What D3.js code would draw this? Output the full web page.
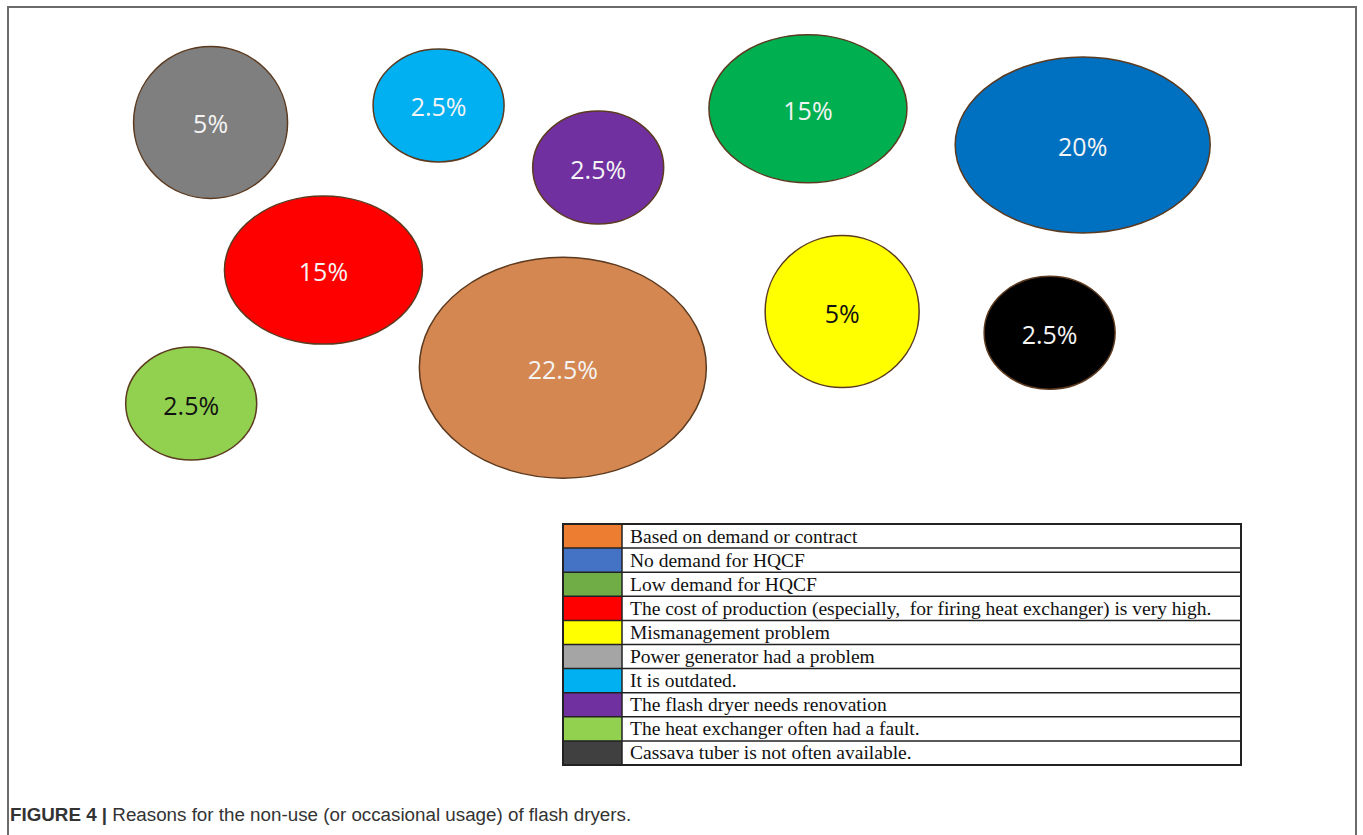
<!DOCTYPE html>
<html>
<head>
<meta charset="utf-8">
<script src="https://cdn.jsdelivr.net/npm/d3@7"></script>
<style>
  html, body { margin: 0; padding: 0; background: #ffffff; }
  svg { display: block; }
</style>
</head>
<body>
<div class="bubble-chart"></div>
<script>
// reasons, in legend order
const reasons = [
    "Based on demand or contract",
    "No demand for HQCF",
    "Low demand for HQCF",
    "The cost of production (especially,  for firing heat exchanger) is very high.",
    "Mismanagement problem",
    "Power generator had a problem",
    "It is outdated.",
    "The flash dryer needs renovation",
    "The heat exchanger often had a fault.",
    "Cassava tuber is not often available."
];
const shares = [22.5, 20, 15, 15, 5, 5, 2.5, 2.5, 2.5, 2.5];
const labels = ["22.5%", "20%", "15%", "15%", "5%", "5%", "2.5%", "2.5%", "2.5%", "2.5%"];

const bubbleColors = ["#d58751", "#0070c0", "#00b050", "#ff0000", "#ffff00", "#7f7f7f", "#00b0f0", "#7030a0", "#92d050", "#000000"];
const legendColors = ["#ed7d31", "#4472c4", "#70ad47", "#ff0000", "#ffff00", "#a5a5a5", "#00b0f0", "#7030a0", "#92d050", "#404040"];
const textColors = ["#f4f4f4", "#f4f4f4", "#f4f4f4", "#f4f4f4", "#111111", "#f4f4f4", "#f4f4f4", "#f4f4f4", "#111111", "#f4f4f4"];

// where each bubble sits on the canvas (layout units 0-100)
const layoutX = [40.6, 86.2, 62.1, 19.6, 65.1, 9.7, 29.7, 43.7, 8.0, 83.3];
const layoutY = [73.4, 25.0, 17.1, 52.2, 61.2, 20.1, 16.4, 29.9, 81.2, 65.8];

const width = 1363, height = 835;

const svg = d3.select(".bubble-chart")
    .append("svg")
    .attr("width", width)
    .attr("height", height);

// figure frame (no bottom edge)
svg.append("path")
    .attr("d", `M8,835 L8,7 L1356,7 L1356,835`)
    .attr("fill", "none")
    .attr("stroke", "#6b6b6b")
    .attr("stroke-width", 2);

const x = d3.scaleLinear().domain([0, 100]).range([100, 1240]);
const y = d3.scaleLinear().domain([0, 100]).range([30, 490]);
// bubble radii, roughly growing with the share
const rx = d3.scaleLinear().domain([2.5, 5, 15, 20, 22.5]).range([65.5, 77, 99, 127.5, 143.5]);
const ry = d3.scaleLinear().domain([2.5, 5, 15, 20, 22.5]).range([56.5, 76, 74, 88, 110.5]);

const nodes = reasons.map((name, i) => ({
    name,
    value: shares[i],
    label: labels[i],
    fill: bubbleColors[i],
    text: textColors[i],
    cx: x(layoutX[i]),
    cy: y(layoutY[i])
}));

const bubbles = svg.append("g").selectAll("g")
    .data(nodes)
    .enter()
    .append("g");

bubbles.append("ellipse")
    .attr("cx", d => d.cx)
    .attr("cy", d => d.cy)
    .attr("rx", d => rx(d.value))
    .attr("ry", d => ry(d.value))
    .attr("fill", d => d.fill)
    .attr("stroke", "#5b3a1f")
    .attr("stroke-width", 1.5);

bubbles.append("text")
    .attr("x", d => d.cx)
    .attr("y", d => d.cy + 1)
    .attr("text-anchor", "middle")
    .attr("dominant-baseline", "central")
    .style("font-family", "'Open Sans', sans-serif")
    .style("font-size", "25px")
    .style("fill", d => d.text)
    .text(d => d.label);

// legend table
const legX = 563, legW = 678, swatchW = 59;
const legY = d3.scaleBand().domain(d3.range(reasons.length)).range([524, 765]);

const legend = svg.append("g");

const rows = legend.selectAll("g")
    .data(reasons)
    .enter()
    .append("g");

rows.append("rect")
    .attr("x", legX)
    .attr("y", (d, i) => legY(i))
    .attr("width", swatchW)
    .attr("height", legY.bandwidth())
    .attr("fill", (d, i) => legendColors[i]);

rows.append("text")
    .attr("x", legX + swatchW + 8)
    .attr("y", (d, i) => legY(i) + 18.5)
    .style("font-family", "'Liberation Serif', 'Times New Roman', serif")
    .style("font-size", "19.5px")
    .style("white-space", "pre")
    .style("fill", "#111")
    .text(d => d);

// grid lines
legend.selectAll("line.row")
    .data(d3.range(1, reasons.length))
    .enter()
    .append("line")
    .attr("x1", legX)
    .attr("x2", legX + legW)
    .attr("y1", i => legY(i))
    .attr("y2", i => legY(i))
    .attr("stroke", "#222")
    .attr("stroke-width", 1.5);

legend.append("line")
    .attr("x1", legX + swatchW)
    .attr("x2", legX + swatchW)
    .attr("y1", 524)
    .attr("y2", 765)
    .attr("stroke", "#222")
    .attr("stroke-width", 1.5);

legend.append("rect")
    .attr("x", legX)
    .attr("y", 524)
    .attr("width", legW)
    .attr("height", 241)
    .attr("fill", "none")
    .attr("stroke", "#222")
    .attr("stroke-width", 2);

// caption
const caption = svg.append("text")
    .attr("x", 10)
    .attr("y", 821)
    .style("font-family", "'Liberation Sans', Arial, sans-serif")
    .style("font-size", "18.8px")
    .style("fill", "#333");

caption.append("tspan")
    .style("font-weight", "bold")
    .text("FIGURE 4 | ");

caption.append("tspan")
    .text("Reasons for the non-use (or occasional usage) of flash dryers.");
</script>
</body>
</html>
